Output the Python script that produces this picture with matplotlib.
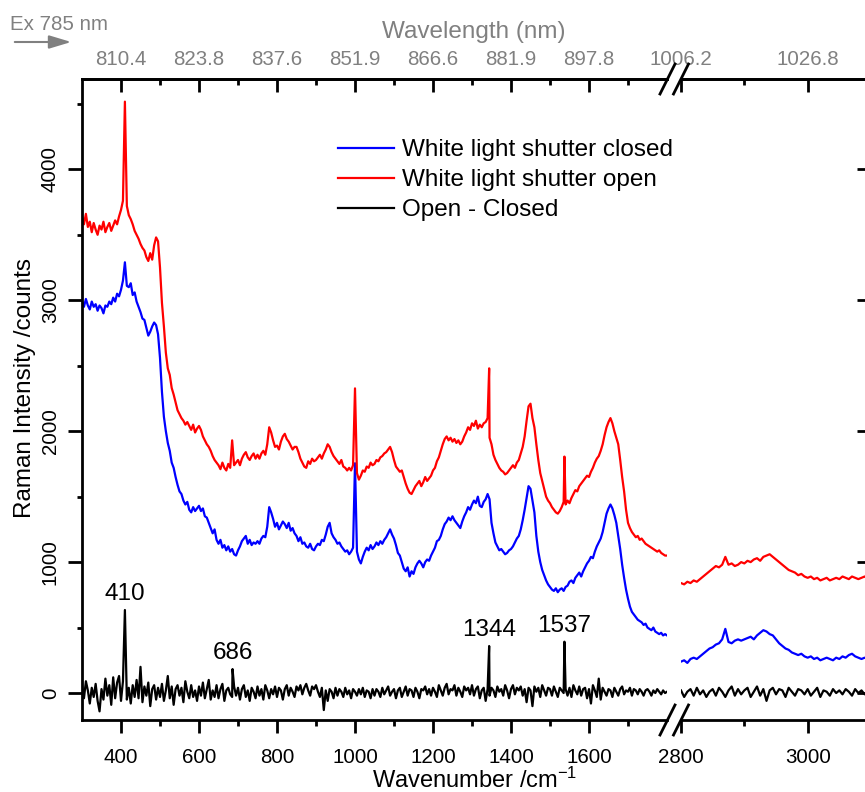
import numpy as np
import matplotlib
matplotlib.use("Agg")
import matplotlib.pyplot as plt
from matplotlib.lines import Line2D
from matplotlib.patches import FancyArrowPatch, ArrowStyle

plt.rcParams['font.family'] = ['Liberation Sans', 'DejaVu Sans']
plt.rcParams['mathtext.fontset'] = 'custom'
plt.rcParams['mathtext.rm'] = 'Liberation Sans'
plt.rcParams['mathtext.it'] = 'Liberation Sans:italic'

# ---------------------------------------------------------------- data
# sampling grids (cm-1) for the fingerprint and CH-stretch windows
wn_low = np.arange(300, 1805, 5)
wn_high = np.arange(2800, 3105, 5)

closed_low = [
    2990, 2950, 3010, 2960, 2930, 2990, 2950, 2970, 2920, 2960,  # 300
    2940, 2900, 2960, 2950, 2990, 2970, 3020, 2990, 3050, 3030,  # 350
    3080, 3150, 3290, 3110, 3100, 3130, 3040, 3060, 2990, 2950,  # 400
    2910, 2860, 2850, 2790, 2730, 2760, 2800, 2830, 2810, 2740,  # 450
    2560, 2300, 2110, 2000, 1910, 1850, 1760, 1720, 1650, 1590,  # 500
    1540, 1520, 1470, 1440, 1460, 1400, 1380, 1420, 1390, 1410,  # 550
    1430, 1390, 1410, 1350, 1340, 1300, 1260, 1220, 1250, 1170,  # 600
    1140, 1170, 1110, 1130, 1090, 1120, 1080, 1100, 1060, 1050,  # 650
    1090, 1120, 1160, 1180, 1200, 1140, 1170, 1130, 1150, 1140,  # 700
    1160, 1140, 1180, 1200, 1190, 1270, 1420, 1380, 1330, 1270,  # 750
    1300, 1250, 1280, 1310, 1290, 1260, 1300, 1240, 1260, 1220,  # 800
    1200, 1160, 1190, 1140, 1150, 1120, 1110, 1140, 1100, 1090,  # 850
    1120, 1140, 1130, 1170, 1160, 1210, 1270, 1300, 1220, 1190,  # 900
    1170, 1140, 1150, 1120, 1100, 1080, 1090, 1060, 1080, 1110,  # 950
    1755, 1080, 1020, 990, 1040, 1080, 1110, 1090, 1130, 1100,   # 1000
    1120, 1150, 1130, 1160, 1140, 1170, 1190, 1220, 1250, 1210,  # 1050
    1180, 1130, 1070, 1050, 1000, 950, 930, 960, 890, 930,       # 1100
    910, 960, 990, 1010, 990, 960, 1000, 1020, 1010, 1050,       # 1150
    1080, 1110, 1160, 1170, 1200, 1250, 1290, 1310, 1340, 1320,  # 1200
    1350, 1320, 1300, 1280, 1260, 1310, 1350, 1380, 1420, 1400,  # 1250
    1440, 1470, 1450, 1500, 1430, 1420, 1460, 1480, 1520, 1480,  # 1300
    1300, 1220, 1150, 1120, 1090, 1100, 1080, 1060, 1070, 1090,  # 1350
    1100, 1120, 1150, 1180, 1200, 1250, 1320, 1400, 1490, 1580,  # 1400
    1560, 1470, 1380, 1200, 1080, 1000, 940, 900, 860, 830,      # 1450
    810, 790, 780, 800, 770, 790, 800, 780, 810, 820,            # 1500
    850, 860, 840, 880, 900, 920, 890, 930, 960, 990,            # 1550
    1010, 1040, 1030, 1080, 1120, 1150, 1180, 1230, 1300, 1370,  # 1600
    1410, 1440, 1410, 1360, 1300, 1200, 1100, 980, 880, 790,     # 1650
    720, 660, 620, 600, 580, 560, 550, 540, 520, 530,            # 1700
    500, 490, 480, 500, 470, 460, 450, 460, 440, 450,            # 1750
    440,
]

open_low = [
    3640, 3580, 3660, 3560, 3600, 3520, 3590, 3540, 3500, 3570,  # 300
    3540, 3600, 3520, 3560, 3590, 3530, 3570, 3610, 3580, 3640,  # 350
    3690, 3760, 4517, 3720, 3650, 3620, 3580, 3530, 3500, 3470,  # 400
    3430, 3400, 3380, 3330, 3300, 3360, 3310, 3420, 3480, 3450,  # 450
    3250, 2980, 2800, 2600, 2480, 2430, 2330, 2280, 2220, 2160,  # 500
    2130, 2100, 2080, 2050, 2070, 2040, 2010, 2050, 1990, 2020,  # 550
    2040, 2010, 1960, 1930, 1900, 1880, 1850, 1810, 1780, 1760,  # 600
    1740, 1710, 1760, 1720, 1700, 1750, 1720, 1930, 1740, 1760,  # 650
    1780, 1740, 1790, 1820, 1840, 1800, 1780, 1810, 1830, 1790,  # 700
    1820, 1790, 1830, 1850, 1820, 1900, 2030, 1990, 1930, 1880,  # 750
    1890, 1860, 1920, 1960, 1980, 1940, 1920, 1890, 1860, 1880,  # 800
    1880, 1840, 1790, 1760, 1730, 1720, 1770, 1750, 1790, 1770,  # 850
    1780, 1800, 1820, 1790, 1830, 1860, 1900, 1880, 1840, 1810,  # 900
    1790, 1770, 1750, 1780, 1730, 1720, 1700, 1720, 1700, 1740,  # 950
    2327, 1680, 1630, 1660, 1700, 1690, 1730, 1720, 1760, 1740,  # 1000
    1750, 1780, 1770, 1800, 1810, 1830, 1840, 1860, 1880, 1840,  # 1050
    1780, 1730, 1710, 1690, 1700, 1650, 1600, 1560, 1530, 1520,  # 1100
    1550, 1580, 1600, 1620, 1580, 1610, 1650, 1620, 1640, 1660,  # 1150
    1700, 1720, 1770, 1800, 1850, 1900, 1940, 1960, 1930, 1950,  # 1200
    1920, 1940, 1910, 1930, 1900, 1920, 1960, 1990, 2030, 2010,  # 1250
    2060, 2040, 2080, 2020, 2050, 2030, 2060, 2070, 2100, 1950,  # 1300
    1900, 1820, 1780, 1750, 1720, 1700, 1690, 1670, 1680, 1700,  # 1350
    1720, 1740, 1720, 1760, 1780, 1830, 1880, 1960, 2080, 2190,  # 1400
    2210, 2100, 2030, 1900, 1780, 1680, 1620, 1560, 1500, 1470,  # 1450
    1450, 1420, 1400, 1380, 1370, 1390, 1420, 1460, 1440, 1470,  # 1500
    1450, 1490, 1520, 1550, 1540, 1580, 1600, 1620, 1640, 1660,  # 1550
    1650, 1690, 1720, 1760, 1790, 1810, 1850, 1900, 1970, 2030,  # 1600
    2070, 2100, 2060, 2000, 1950, 1900, 1780, 1650, 1540, 1400,  # 1650
    1300, 1260, 1230, 1210, 1190, 1200, 1170, 1180, 1160, 1140,  # 1700
    1130, 1120, 1110, 1100, 1090, 1080, 1090, 1070, 1060, 1050,  # 1750
    1050,
]
open_spike_wn = [1344, 1537]
open_spike_counts = [2480, 1806]

diff_low = [
    60, -40, 90, 20, -80, 40, -30, 70, -60, -140,   # 300
    30, -50, 110, -20, 60, -90, 120, -40, 80, 130,  # 350
    -60, 90, 0, -50, 40, -80, 60, -30, 100, -40,    # 400
    200, -70, 50, -20, 80, -100, 30, 60, -50, 40,   # 450
    -30, 70, -60, 20, 130, -40, 50, -90, 30, 60,    # 500
    -20, 40, -70, 90, 10, -40, 60, -30, 20, -60,    # 550
    50, -20, 80, -40, 30, 100, -50, 20, -30, 60,    # 600
    -40, 30, 70, -60, 20, 40, -10, -30, 50, -20,    # 650
    40, -50, 30, 60, -30, 20, -60, 40, 10, -40,     # 700
    50, -20, 30, -50, 60, 20, -40, 30, -10, 50,     # 750
    -30, 40, 20, -50, 30, 60, -20, 40, 10, -30,     # 800
    50, 20, 60, -10, 40, 70, 20, -20, 50, 30,       # 850
    60, 10, -30, 40, -130, 20, -60, 30, 10, -40,    # 900
    40, -20, 30, 10, -30, 40, -10, 20, -40, 30,     # 950
    10, -20, 30, -10, 40, -30, 20, 10, -40, 30,     # 1000
    -20, 30, 10, -30, 40, -10, 20, 50, -20, 10,     # 1050
    30, -40, 20, 40, -30, 10, 50, -20, 30, 20,      # 1100
    -30, 40, 10, -40, 30, 20, 50, -10, 30, -20,     # 1150
    40, 10, -30, 60, 20, -20, 40, 70, -10, 30,      # 1200
    20, 60, -20, 40, 10, -30, 50, 20, 40, -10,      # 1250
    60, -20, 30, 50, -40, 20, 40, -60, 30, -20,     # 1300
    40, 20, -30, 50, 10, 30, -20, 60, 20, -40,      # 1350
    30, 60, -10, 40, 20, 50, -20, 30, -70, 40,      # 1400
    20, -100, 50, 10, 40, -30, 60, 20, -20, 40,     # 1450
    30, -20, 50, 10, -30, 40, 20, 0, 30, -20,       # 1500
    40, -30, 60, 20, -10, 50, -20, 30, 40, -40,     # 1550
    30, -80, 60, 20, -30, 110, -50, 40, 10, -20,    # 1600
    30, 20, -30, 40, 10, -20, 30, 50, -10, 20,      # 1650
    10, 40, -20, 30, 20, -10, 30, 10, -20, 20,      # 1700
    30, 10, -20, 20, 0, 30, 10, -10, 20, 0,         # 1750
    10,
]
# labelled difference bands (cm-1) and their heights (counts)
peak_wn = [410, 686, 1344, 1537]
peak_counts = [634, 183, 359, 392]

closed_high = [
    240, 250, 230, 260, 270, 260, 280, 300, 320, 340,  # 2800
    350, 370, 380, 410, 490, 390, 380, 400, 410, 400,  # 2850
    410, 420, 430, 410, 440, 460, 480, 470, 450, 440,  # 2900
    410, 380, 360, 340, 330, 310, 300, 290, 300, 280,  # 2950
    270, 280, 260, 270, 250, 260, 270, 260, 250, 270,  # 3000
    260, 280, 270, 290, 300, 280, 270, 260, 270, 260,  # 3050
    250,
]
open_high = [
    840, 830, 850, 840, 860, 850, 870, 890, 910, 930,         # 2800
    950, 970, 960, 980, 1040, 980, 990, 970, 980, 1000,       # 2850
    990, 1010, 1000, 1020, 1030, 1010, 1040, 1050, 1060, 1040,  # 2900
    1020, 1000, 980, 960, 940, 930, 920, 900, 910, 890,       # 2950
    880, 890, 870, 880, 860, 870, 880, 860, 870, 880,         # 3000
    870, 890, 880, 870, 890, 880, 870, 880, 890, 870,         # 3050
    880,
]
diff_high = [
    20, -30, 10, 30, -20, 40, -10, 20, -30, 10,   # 2800
    30, -20, 40, 10, -30, 20, 50, -20, 30, -10,   # 2850
    20, 40, -30, 10, 50, -20, 30, -60, 20, 40,    # 2900
    -10, 30, 20, -30, 40, 10, -20, 30, 20, -10,   # 2950
    30, -20, 10, 40, -30, 20, 10, -20, 30, 0,     # 3000
    20, -10, 30, 10, -20, 30, 0, 20, -10, 10,     # 3050
    0,
]

series_labels = ["White light shutter closed", "White light shutter open", "Open - Closed"]

# tick positions and labels
low_major = [400, 600, 800, 1000, 1200, 1400, 1600]
low_minor = [500, 700, 900, 1100, 1300, 1500, 1700]
high_major = [2800, 3000]
high_minor = [2900]
low_nm_labels = ["810.4", "823.8", "837.6", "851.9", "866.6", "881.9", "897.8"]
high_nm_labels = ["1006.2", "1026.8"]
y_major = [0, 1000, 2000, 3000, 4000]
y_minor = [500, 1500, 2500, 3500, 4500]


def with_peaks(wn, counts, pk_wn, pk_counts):
    """Merge narrow band maxima into a sampled trace."""
    wn = np.asarray(wn, float)
    counts = np.asarray(counts, float)
    pk_wn = np.asarray(pk_wn, float)
    keep = ~np.isin(wn, pk_wn)
    x = np.concatenate([wn[keep], pk_wn])
    y = np.concatenate([counts[keep], np.asarray(pk_counts, float)])
    order = np.argsort(x)
    return x[order], y[order]


# ---------------------------------------------------------------- figure
W, H = 865, 792
fig = plt.figure(figsize=(W / 100, H / 100), dpi=100)


def px_box(x0, x1, ytop, ybot):
    return [x0 / W, 1 - ybot / H, (x1 - x0) / W, (ybot - ytop) / H]


axL = fig.add_axes(px_box(82, 667, 79, 720))
axR = fig.add_axes(px_box(681, 871, 79, 720))

BLUE, RED, BLACK, GRAY = "#0000ff", "#ff0000", "#000000", "#808080"
LW = 1.6
TICK_FS = 14.8
LABEL_FS = 17.5

xo, yo = with_peaks(wn_low, open_low, open_spike_wn, open_spike_counts)
xd, yd = with_peaks(wn_low, diff_low, peak_wn, peak_counts)

h1, = axL.plot(wn_low, closed_low, color=BLUE, lw=LW)
h2, = axL.plot(xo, yo, color=RED, lw=LW)
h3, = axL.plot(xd, yd, color=BLACK, lw=LW)
axR.plot(wn_high, closed_high, color=BLUE, lw=LW)
axR.plot(wn_high, open_high, color=RED, lw=LW)
axR.plot(wn_high, diff_high, color=BLACK, lw=LW)

axL.set_xlim(300, 1800)
axR.set_xlim(2800, 3100)
for ax in (axL, axR):
    ax.set_ylim(-206, 4690)
    for sp in ax.spines.values():
        sp.set_linewidth(2)
axL.spines['right'].set_visible(False)
axR.spines['left'].set_visible(False)

# bottom (wavenumber) ticks
axL.set_xticks(low_major, labels=[str(v) for v in low_major])
axL.set_xticks(low_minor, minor=True)
axR.set_xticks(high_major, labels=[str(v) for v in high_major])
axR.set_xticks(high_minor, minor=True)
for ax in (axL, axR):
    ax.tick_params(axis='x', which='both', direction='out', bottom=True, top=False,
                   width=2, labelsize=TICK_FS, pad=10.5)
    ax.tick_params(axis='x', which='major', length=9.5)
    ax.tick_params(axis='x', which='minor', length=4.5)
    ax.set_yticks(y_major)
    ax.set_yticks(y_minor, minor=True)
    ax.tick_params(axis='y', which='both', width=2)
    ax.tick_params(axis='y', which='major', length=10)
    ax.tick_params(axis='y', which='minor', length=3.8)

axL.tick_params(axis='y', which='both', direction='out', left=True, right=False,
                labelsize=TICK_FS, labelrotation=90, pad=6)
plt.setp(axL.get_yticklabels(), va='center')
axR.tick_params(axis='y', which='both', direction='in', left=False, right=True,
                labelleft=False, labelright=False)

# top (wavelength) axes
for ax, maj, mnr, labs in ((axL, low_major, low_minor, low_nm_labels),
                           (axR, high_major, high_minor, high_nm_labels)):
    sec = ax.secondary_xaxis('top')
    sec.set_xticks(maj, labels=labs)
    sec.set_xticks(mnr, minor=True)
    sec.tick_params(which='both', direction='in', width=2, labelsize=TICK_FS,
                    labelcolor=GRAY, pad=7)
    sec.tick_params(which='major', length=9.5)
    sec.tick_params(which='minor', length=4.5)
    sec.spines['top'].set_linewidth(2)

# band labels on the difference trace
for wn, c in zip(peak_wn, peak_counts):
    axL.annotate(str(wn), xy=(wn, c), xytext=(0, 7), textcoords='offset points',
                 ha='center', va='baseline', fontsize=LABEL_FS)

axL.legend([h1, h2, h3], series_labels, loc='upper left',
           bbox_to_anchor=(338 / W, 1 - 139 / H), bbox_transform=fig.transFigure,
           frameon=False, fontsize=LABEL_FS, handlelength=2.3, handletextpad=0.35,
           labelspacing=0.33, borderpad=0, borderaxespad=0)

# axis-break marks
for xc in (667.5, 681.0):
    for yc in (79, 720):
        fig.add_artist(Line2D([(xc - 7.5) / W, (xc + 7.5) / W],
                              [1 - (yc + 15) / H, 1 - (yc - 15) / H],
                              transform=fig.transFigure, color=BLACK, lw=2))

# titles and annotations
fig.text(473.5 / W, 1 - 32 / H, "Wavelength (nm)", color=GRAY, fontsize=LABEL_FS,
         ha='center', va='center')
fig.text(475 / W, 1 - 780 / H, r"Wavenumber /cm$^{\mathregular{-1}}$", fontsize=17,
         ha='center', va='center')
fig.text(25 / W, 1 - 388 / H, "Raman Intensity /counts", rotation=90,
         fontsize=LABEL_FS, ha='center', va='center')
fig.text(10 / W, 1 - 25 / H, "Ex 785 nm", color=GRAY, fontsize=TICK_FS,
         ha='left', va='center')
fig.add_artist(FancyArrowPatch((12 / W, 1 - 42 / H), (74 / W, 1 - 42 / H),
                               transform=fig.transFigure,
                               arrowstyle=ArrowStyle('-|>', head_length=1.0, head_width=0.3),
                               mutation_scale=13.5, color=GRAY, lw=1.5))

fig.savefig("out.png", dpi=100)
